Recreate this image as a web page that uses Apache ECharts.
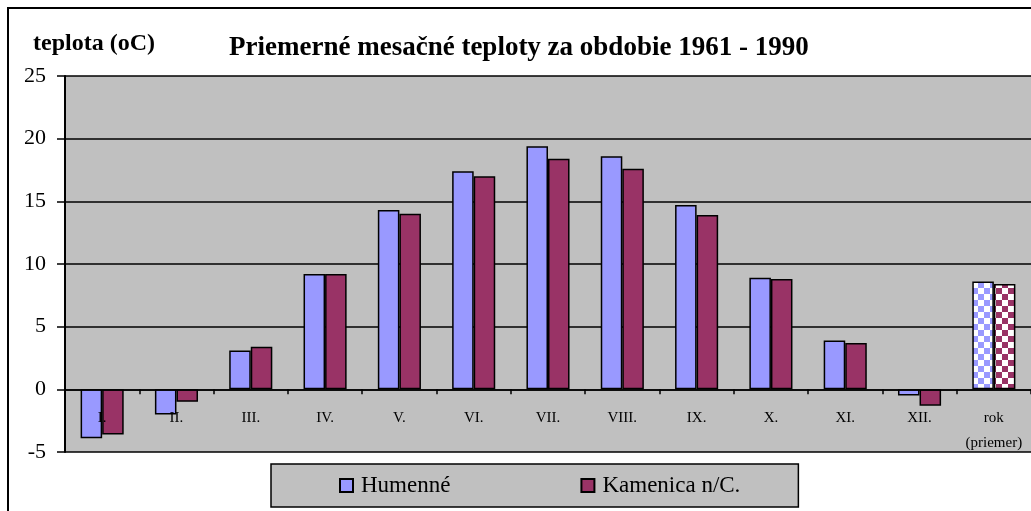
<!DOCTYPE html>
<html>
<head>
<meta charset="utf-8">
<script src="https://cdn.jsdelivr.net/npm/echarts@6/dist/echarts.min.js"></script>
<style>
  html, body { margin: 0; padding: 0; background: #fff; }
  #chart { width: 1031px; height: 511px; }
</style>
</head>
<body>
<div id="chart"></div>
<script>
const months = ["I.", "II.", "III.", "IV.", "V.", "VI.", "VII.", "VIII.", "IX.", "X.", "XI.", "XII.", "rok\n(priemer)"];
const humenne = [-3.9, -2.0, 3.1, 9.2, 14.3, 17.4, 19.4, 18.6, 14.7, 8.9, 3.9, -0.5, 8.6];
const kamenica = [-3.6, -1.0, 3.4, 9.2, 14.0, 17.0, 18.4, 17.6, 13.9, 8.8, 3.7, -1.3, 8.4];
const seriesNames = ["Humenné", "Kamenica n/C."];
const yTicks = { min: -5, max: 25, step: 5 };

const colors = ["#9999FF", "#993366"];
const serif = "'Liberation Serif', 'Times New Roman', serif";

// grid box in px
const gridTop = 76;
const gridBottom = 59;
const gridH = 511 - gridTop - gridBottom;
// move the category axis up onto the zero line (labels follow it)
const zeroOffset = -gridH * (0 - yTicks.min) / (yTicks.max - yTicks.min);

// checker pattern for the yearly average bars
const checker = (color) => {
  const c = document.createElement("canvas");
  c.width = 12;
  c.height = 12;
  const ctx = c.getContext("2d");
  ctx.fillStyle = "#ffffff";
  ctx.fillRect(0, 0, 12, 12);
  ctx.fillStyle = color;
  ctx.fillRect(0, 0, 6, 6);
  ctx.fillRect(6, 6, 6, 6);
  return { image: c, repeat: "repeat" };
};

const toData = (values, color) =>
  values.map((v, i) => (i === values.length - 1 ? { value: v, itemStyle: { color: checker(color) } } : v));

const myChart = echarts.init(document.getElementById("chart"));

const options = {
  animation: false,
  title: [
    {
      text: "Priemerné mesačné teploty za obdobie 1961 - 1990",
      left: 229,
      top: 35,
      padding: 0,
      textStyle: { fontFamily: serif, fontSize: 27, fontWeight: "bold", color: "#000" },
    },
    {
      text: "teplota (oC)",
      left: 33,
      top: 32,
      padding: 0,
      textStyle: { fontFamily: serif, fontSize: 24, fontWeight: "bold", color: "#000" },
    },
  ],
  graphic: [
    {
      type: "rect",
      z: 100,
      shape: { x: 8, y: 8, width: 1040, height: 530 },
      style: { fill: null, stroke: "#000", lineWidth: 2 },
    },
  ],
  legend: {
    data: seriesNames,
    left: 271,
    top: 464,
    padding: [10, 58, 10, 68],
    itemGap: 130,
    itemWidth: 13,
    itemHeight: 13,
    icon: "rect",
    backgroundColor: "#C0C0C0",
    borderColor: "#000",
    borderWidth: 1.5,
    textStyle: { fontFamily: serif, fontSize: 23, color: "#000", padding: [0, 0, 0, 3] },
  },
  grid: {
    left: 65,
    right: 0,
    top: gridTop,
    bottom: gridBottom,
    show: true,
    backgroundColor: "#C0C0C0",
    borderWidth: 0,
  },
  xAxis: {
    type: "category",
    data: months,
    z: 10,
    offset: zeroOffset,
    axisLine: { onZero: false, lineStyle: { color: "#000", width: 1.5 } },
    axisTick: { show: true, length: 5, lineStyle: { color: "#000", width: 1.5 } },
    axisLabel: {
      color: "#000",
      fontFamily: serif,
      fontSize: 15,
      lineHeight: 25,
      margin: 16,
      interval: 0,
    },
  },
  yAxis: {
    type: "value",
    min: yTicks.min,
    max: yTicks.max,
    interval: yTicks.step,
    axisLine: { show: true, lineStyle: { color: "#000", width: 2 } },
    axisTick: { show: true, length: 8, lineStyle: { color: "#000", width: 1.5 } },
    axisLabel: { color: "#000", fontFamily: serif, fontSize: 22, margin: 19 },
    splitLine: { show: true, lineStyle: { color: "#000", width: 1.5 } },
  },
  series: [humenne, kamenica].map((values, index) => ({
    name: seriesNames[index],
    type: "bar",
    barGap: 0,
    barCategoryGap: "42%",
    data: toData(values, colors[index]),
    itemStyle: {
      color: colors[index],
      borderColor: "#000",
      borderWidth: 1.5,
    },
  })),
};

myChart.setOption(options);
</script>
</body>
</html>
